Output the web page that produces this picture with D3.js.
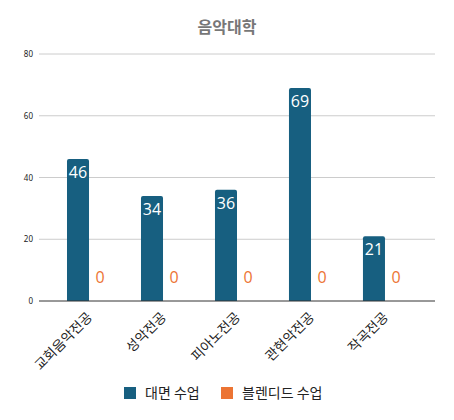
<!DOCTYPE html>
<html>
<head>
<meta charset="utf-8">
<script src="https://cdn.jsdelivr.net/npm/d3@7"></script>
<style>
body{margin:0;background:#fff;font-family:"Noto Sans CJK KR","Noto Sans",sans-serif;}
</style>
</head>
<body>
<svg id="canvas" width="454" height="420"></svg>
<script>
let categories=['교회음악전공','성악전공','피아노전공','관현악전공','작곡전공'];
let seriesNames=['대면 수업','블렌디드 수업'];
let faceValues=[46,34,36,69,21];
let blendedValues=[0,0,0,0,0];
let yTicks=[0,20,40,60,80];
let colors=['#175f80','#ec7433'];

let svg=d3.select('#canvas');
let pLeft=39,pRight=435,pTop=54,pBottom=301;

let x=d3.scaleBand().domain(categories).range([pLeft,pRight]).paddingInner(0).paddingOuter(0.176);
let x1=d3.scaleBand().domain(seriesNames).range([0,x.bandwidth()]).paddingInner(0).paddingOuter(0.68);
let y=d3.scaleLinear().domain([0,80]).range([pBottom,pTop]);

svg.append('text')
    .attr('x',227).attr('y',33)
    .attr('text-anchor','middle')
    .attr('font-size',16).attr('font-weight','bold')
    .attr('fill','#777')
    .text('음악대학');

// grid
svg.append('g').selectAll('line')
    .data(yTicks.filter(d=>d>0))
    .enter().append('line')
    .attr('x1',pLeft).attr('x2',pRight)
    .attr('y1',d=>y(d)).attr('y2',d=>y(d))
    .attr('stroke','#ccc').attr('stroke-width',1);

let yAxis=svg.append('g')
    .attr('transform','translate('+pLeft+',0)')
    .call(d3.axisLeft(y).tickValues(yTicks).tickSize(0).tickPadding(6));
yAxis.select('.domain').remove();
yAxis.selectAll('text').attr('font-size',8).attr('fill','#222').attr('font-family','"Noto Sans",sans-serif');

let rows=categories.map((c,i)=>({cat:c,vals:[faceValues[i],blendedValues[i]]}));

let groups=svg.append('g').selectAll('g')
    .data(rows).enter().append('g')
    .attr('transform',d=>'translate('+x(d.cat)+',0)');

groups.selectAll('path')
    .data(d=>d.vals.map((v,j)=>({v:v,s:seriesNames[j],j:j})))
    .enter().append('path')
    .attr('fill',d=>colors[d.j])
    .attr('d',d=>{
        let x0=x1(d.s),w=x1.bandwidth(),y0=y(d.v),h=y(0)-y0,r=Math.min(2,h/2);
        if(h<=0) return '';
        return 'M'+x0+','+y(0)+'V'+(y0+r)+'Q'+x0+','+y0+' '+(x0+r)+','+y0+
            'H'+(x0+w-r)+'Q'+(x0+w)+','+y0+' '+(x0+w)+','+(y0+r)+'V'+y(0)+'Z';
    });

groups.selectAll('text')
    .data(d=>d.vals.map((v,j)=>({v:v,s:seriesNames[j],j:j})))
    .enter().append('text')
    .attr('x',d=>x1(d.s)+x1.bandwidth()/2)
    .attr('y',d=>d.v>0?y(d.v)+19:y(0)-18)
    .attr('text-anchor','middle')
    .attr('font-size',16)
    .attr('font-family','"Open Sans",sans-serif')
    .attr('fill',d=>d.v>0?'#fff':colors[1])
    .text(d=>d.v);

// x axis line
svg.append('line')
    .attr('x1',pLeft).attr('x2',pRight)
    .attr('y1',pBottom).attr('y2',pBottom)
    .attr('stroke','#333').attr('stroke-width',1);

svg.append('g').selectAll('text')
    .data(categories).enter().append('text')
    .attr('transform',d=>'translate('+(x(d)+x.bandwidth()/2+4)+','+(pBottom+17)+') rotate(-45)')
    .attr('text-anchor','end')
    .attr('font-size',13.5)
    .attr('fill','#222')
    .text(d=>d);

// legend
let legend=svg.append('g');
let lx=[124,221];
seriesNames.forEach((s,i)=>{
    legend.append('rect').attr('x',lx[i]).attr('y',387).attr('width',12).attr('height',12).attr('fill',colors[i]);
    legend.append('text').attr('x',lx[i]+21).attr('y',398).attr('font-size',14).attr('fill','#222').text(s);
});
</script>
</body>
</html>
